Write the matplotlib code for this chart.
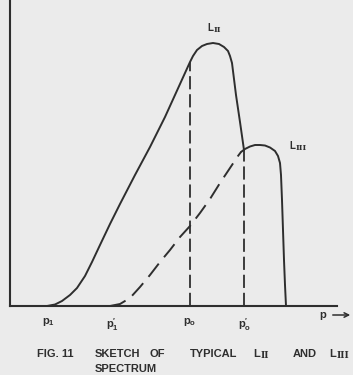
import matplotlib as mpl
import matplotlib.pyplot as plt

mpl.rc('font', family=['Liberation Sans', 'DejaVu Sans'], weight='bold', size=8)
mpl.rc('mathtext', default='regular')
mpl.rc('lines', scale_dashes=False)

# sketch values (momentum p, intensity), arbitrary units
l2_p = [37, 45, 52, 60, 67, 75, 82, 90, 100, 110, 125, 140, 155, 170, 180,
        183, 187, 192, 197, 203, 209, 214, 218, 220, 222, 226, 230, 234]
l2_n = [0, 1.5, 5, 11, 18, 30, 44, 61, 82, 102, 131, 159, 189, 222, 244,
        250, 256, 260, 262, 263, 262, 259, 255, 250, 243, 211, 184, 156]

l3_dash_p = [100, 110, 120, 130, 140, 150, 160, 170, 180, 190, 200, 210, 220, 228, 231]
l3_dash_n = [0, 2, 8, 19, 31, 44, 56, 69, 80, 93, 107, 123, 138, 150, 154]
l3_p = [231, 235, 240, 245, 250, 255, 260, 265, 268, 270, 271, 272, 273, 274, 275, 276]
l3_n = [154, 157, 159.5, 161, 161, 160.5, 158.5, 155, 150, 143, 131, 106, 76, 46, 21, 0]

p_o = 180          # L_II drop-off
p_o_prime = 234    # L_III start of plateau
p_ticks = [38, 102, 180, 235]
p_labels = [r'p$_\mathregular{1}$', r"p$_\mathregular{1}^\prime$",
            r'p$_\mathregular{o}$', r"p$_\mathregular{o}^\prime$"]

ink = '#2e2e2e'
bg = '#ebebeb'

fig = plt.figure(figsize=(3.53, 3.75), dpi=100, facecolor=bg)
ax = fig.add_axes([10/353, 69/375, 327/353, 306/375])
ax.set_facecolor('none')
ax.set_xlim(0, 327)
ax.set_ylim(0, 306)

for s in ['top', 'right']:
    ax.spines[s].set_visible(False)
for s in ['left', 'bottom']:
    ax.spines[s].set_linewidth(1.5)
    ax.spines[s].set_color(ink)
ax.set_xticks([])
ax.set_yticks([])

ax.plot(l2_p, l2_n, color=ink, lw=1.4, solid_capstyle='round')
ax.plot(l3_dash_p, l3_dash_n, color=ink, lw=1.4, dashes=(12, 6))
ax.plot(l3_p, l3_n, color=ink, lw=1.4, solid_capstyle='round')

# dashed verticals at p0 and p0'
ax.plot([p_o, p_o], [0, l2_n[l2_p.index(p_o)]], color=ink, lw=1.3, dashes=(9.5, 3.5))
ax.plot([p_o_prime, p_o_prime], [0, l2_n[-1]], color=ink, lw=1.3, dashes=(9.5, 3.5))

for x, lab in zip(p_ticks, p_labels):
    ax.text(x, -10, lab, ha='center', va='top', color=ink, fontsize=8)
ax.text(313, -9, 'p', ha='center', va='center', color=ink, fontsize=8)
ax.annotate('', xy=(343, -9), xytext=(320, -9), xycoords='data',
            arrowprops=dict(arrowstyle='->', color=ink, lw=1.1), annotation_clip=False)


def l_label(x, y, numeral, transform, size=7):
    # "L" followed by a barred roman numeral, lettering style
    fig.text(x, y, 'L', transform=transform, ha='left', va='baseline',
             color=ink, fontsize=size)
    dx = size * 0.62 * 100 / 72 + 0.6
    t = transform + mpl.transforms.ScaledTranslation(dx/100, -1.5/100, fig.dpi_scale_trans)
    fig.text(x, y, numeral, transform=t, ha='left', va='baseline',
             color=ink, fontsize=size * 0.8, family='DejaVu Serif', weight='bold')


l_label(197, 275, 'II', ax.transData)
l_label(279, 157, 'III', ax.transData)

# caption
cap_y = 1 - 357/375
words = [('FIG. 11', 37), ('SKETCH', 95), ('OF', 150), ('TYPICAL', 190), ('AND', 293)]
for w, x in words:
    fig.text(x/353, cap_y, w, ha='left', va='baseline', color=ink, fontsize=8)
l_label(253/353, cap_y, 'II', fig.transFigure, size=8)
l_label(329/353, cap_y, 'III', fig.transFigure, size=8)
fig.text(95/353, 1 - 372/375, 'SPECTRUM', ha='left', va='baseline', color=ink, fontsize=8)

fig.savefig('out.png', dpi=100, facecolor=bg)
